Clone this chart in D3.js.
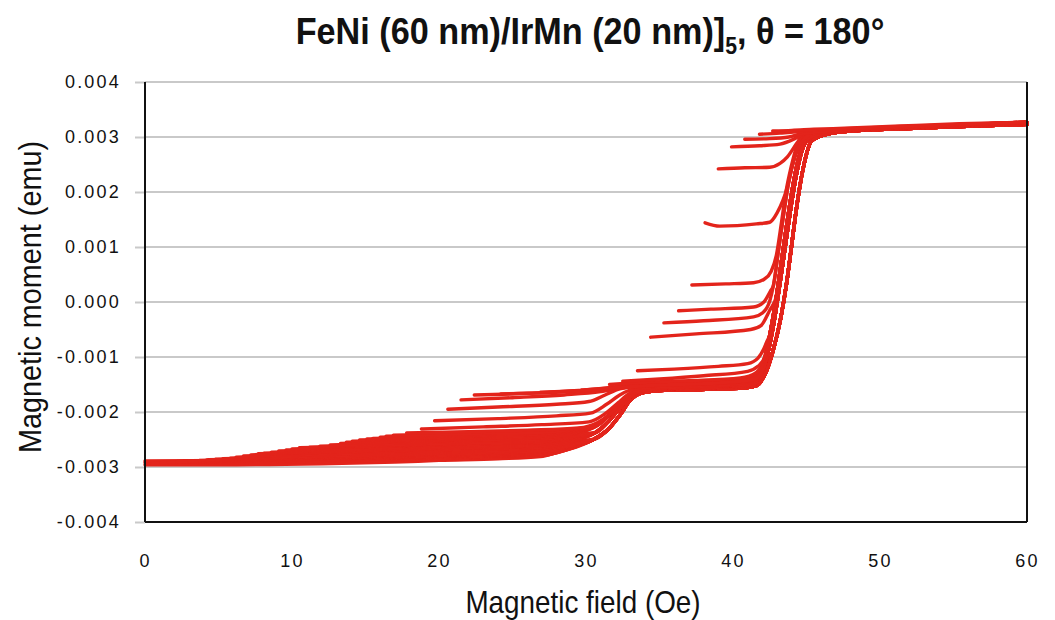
<!DOCTYPE html>
<html>
<head>
<meta charset="utf-8">
<script src="https://cdn.jsdelivr.net/npm/d3@7"></script>
<style>
  html, body { margin: 0; padding: 0; background: #ffffff; }
  svg { display: block; }
  .tick-label { font-family: "Liberation Sans", Arial, sans-serif; font-size: 18px; fill: #111; letter-spacing: 2.2px; }
  .axis-title { font-family: "Liberation Sans", Arial, sans-serif; font-size: 32px; fill: #111; }
  .chart-title { font-family: "Liberation Sans", Arial, sans-serif; font-size: 37px; font-weight: bold; fill: #111; }
</style>
</head>
<body>
<svg id="chart" width="1055" height="620"></svg>
<script>
// ---- Axis ticks -------------------------------------------------------
const xTicks = [0, 10, 20, 30, 40, 50, 60];
const yTicks = [-0.004, -0.003, -0.002, -0.001, 0, 0.001, 0.002, 0.003, 0.004];
const yTickLabels = ["-0.004", "-0.003", "-0.002", "-0.001", "0.000", "0.001", "0.002", "0.003", "0.004"];

// Moments below are given in units of 1e-3 emu; field in Oe.
const MOMENT_UNIT = 1e-3;

// ---- Shared branch segments that the reversal curves run into ---------
// lower step (~30-34 Oe) onto the intermediate plateau
const stepLow  = [[30.5,-2.50],[31.6,-2.29],[32.3,-2.06],[33.0,-1.79],[33.7,-1.66],[35.0,-1.61],[37.8,-1.59],[40.8,-1.56],[41.6,-1.52]];
const stepMid  = [[30.6,-2.38],[31.5,-2.18],[32.2,-1.96],[32.9,-1.74],[33.6,-1.63],[35.0,-1.58],[37.8,-1.56],[40.8,-1.53],[41.5,-1.49]];
const stepHigh = [[30.7,-2.25],[31.5,-2.07],[32.2,-1.86],[32.9,-1.69],[33.6,-1.61],[35.0,-1.56],[37.8,-1.53],[40.8,-1.50],[41.4,-1.45]];
// final switching (~42-46 Oe) up to positive saturation
const riseR  = [[42.25,-1.27],[42.7,-0.91],[43.25,-0.29],[43.65,0.35],[43.95,0.95],[44.3,1.67],[44.75,2.40],[45.35,2.93],[46.0,3.02],[47.6,3.10],[51.4,3.15],[55.4,3.19],[60,3.23]];
const riseRM = [[42.35,-0.95],[42.8,-0.35],[43.2,0.35],[43.55,1.00],[43.9,1.65],[44.3,2.30],[44.75,2.80],[45.3,3.00],[46.0,3.06],[47.6,3.11],[51.4,3.16],[55.4,3.20],[60,3.24]];
const riseMR = [[42.5,-0.60],[42.95,0.10],[43.3,0.75],[43.65,1.40],[44.0,2.00],[44.45,2.60],[44.95,2.95],[45.7,3.04],[47.6,3.11],[51.4,3.17],[55.4,3.21],[60,3.25]];
const riseML = [[42.75,0.30],[43.1,0.95],[43.45,1.60],[43.8,2.20],[44.2,2.65],[44.65,2.95],[45.4,3.06],[47.6,3.12],[51.4,3.17],[55.4,3.22],[60,3.26]];
const riseL  = [[42.95,0.85],[43.3,1.45],[43.6,2.00],[43.95,2.45],[44.3,2.80],[44.65,3.00],[45.3,3.08],[47.6,3.13],[51.4,3.18],[55.4,3.22],[60,3.27]];

const branches = { stepLow, stepMid, stepHigh, riseR, riseRM, riseMR, riseML, riseL };

// ---- Reversal curves: own points from the reversal field (or the 0 Oe edge),
// ---- then the branches they join
const reversalPoints = [
  [[0,-2.96],[5,-2.96],[12,-2.94],[17,-2.91],[20,-2.88],[24,-2.85],[26.9,-2.81],[28.2,-2.72],[29.5,-2.62]],
  [[0,-2.92],[6,-2.91],[13,-2.89],[19,-2.86],[24,-2.82],[27,-2.79],[29.5,-2.61]],
  [[0,-2.89],[6,-2.88],[13,-2.86],[19,-2.83],[24,-2.80],[27,-2.77],[29.5,-2.60]],
  [[0.5,-2.94],[8,-2.92],[16,-2.88],[22,-2.84],[27,-2.79],[29.5,-2.61]],
  [[1.1,-2.92],[10,-2.89],[20,-2.83],[27,-2.78],[29.5,-2.60]],
  [[1.6,-2.91],[10,-2.88],[20,-2.82],[27,-2.77],[29.5,-2.60]],
  [[2.2,-2.90],[10,-2.87],[20,-2.81],[27,-2.76],[29.5,-2.59]],
  [[3.0,-2.89],[11,-2.85],[20,-2.80],[27,-2.75],[29.5,-2.58]],
  [[3.7,-2.88],[12,-2.84],[20,-2.79],[27,-2.74],[29.5,-2.58]],
  [[4.2,-2.87],[12,-2.83],[20,-2.78],[27,-2.73],[29.5,-2.57]],
  [[4.8,-2.86],[12,-2.82],[20,-2.77],[27,-2.72],[29.5,-2.57]],
  [[5.3,-2.85],[13,-2.80],[20,-2.76],[27,-2.71],[29.5,-2.56]],
  [[5.8,-2.84],[13,-2.79],[20,-2.75],[27,-2.70],[29.5,-2.55]],
  [[6.2,-2.82],[13,-2.77],[21,-2.73],[27,-2.68],[29.5,-2.52]],
  [[6.7,-2.80],[14,-2.75],[21,-2.71],[27,-2.67],[29.5,-2.51]],
  [[7.2,-2.78],[14,-2.73],[21,-2.69],[27,-2.65],[29.5,-2.50]],
  [[7.7,-2.76],[14,-2.72],[21,-2.68],[27,-2.64],[29.5,-2.49]],
  [[8.1,-2.75],[15,-2.70],[21,-2.66],[27,-2.62],[29.5,-2.48]],
  [[8.6,-2.73],[15,-2.69],[21,-2.65],[27,-2.61],[29.5,-2.47]],
  [[9.1,-2.71],[16,-2.67],[22,-2.63],[27,-2.59],[29.5,-2.46]],
  [[9.6,-2.69],[16,-2.65],[22,-2.61],[27,-2.58],[29.5,-2.45]],
  [[10.0,-2.67],[16,-2.63],[22,-2.59],[27,-2.56],[29.5,-2.44]],
  [[10.5,-2.65],[16,-2.62],[22,-2.58],[27,-2.55],[29.5,-2.43]],
  [[11.2,-2.64],[17,-2.60],[22,-2.57],[27,-2.54],[29.5,-2.42]],
  [[11.9,-2.62],[17,-2.59],[22,-2.56],[27,-2.53],[29.5,-2.41]],
  [[12.6,-2.60],[18,-2.56],[23,-2.53],[27,-2.51],[29.5,-2.39]],
  [[13.3,-2.57],[18,-2.54],[23,-2.51],[27,-2.49],[29.5,-2.38]],
  [[13.7,-2.55],[19,-2.52],[23,-2.50],[27,-2.47],[29.5,-2.37]],
  [[14.1,-2.53],[19,-2.51],[23,-2.48],[27,-2.46],[29.5,-2.36]],
  [[14.6,-2.51],[19,-2.49],[24,-2.46],[27,-2.44],[29.5,-2.35]],
  [[15.1,-2.49],[20,-2.47],[24,-2.45],[27,-2.43],[29.5,-2.34]],
  [[15.5,-2.48],[20,-2.46],[24,-2.43],[27,-2.41],[29.5,-2.33]],
  [[16.0,-2.46],[20,-2.44],[24,-2.42],[27,-2.40],[29.5,-2.32]],
  [[16.4,-2.44],[21,-2.42],[24,-2.40],[27,-2.38],[29.5,-2.31]],
  [[16.9,-2.42],[21,-2.40],[24,-2.38],[27,-2.37],[29.5,-2.30]],
  [[17.8,-2.38],[22,-2.36],[26,-2.33],[29.5,-2.29],[30.8,-2.19],[31.8,-2.00],[32.6,-1.78],[33.3,-1.65],[35,-1.57],[38,-1.54],[40.8,-1.51],[41.5,-1.47]],
  [[18.8,-2.31],[23,-2.27],[27,-2.23],[30.2,-2.18],[31.3,-2.03],[32.2,-1.83],[32.9,-1.67],[34,-1.58],[37,-1.54],[40.5,-1.50],[41.4,-1.45]],
  [[19.7,-2.16],[24,-2.12],[28,-2.07],[30.3,-2.02],[31.4,-1.86],[32.3,-1.69],[33.3,-1.58],[36,-1.53],[40,-1.49],[41.3,-1.44]],
  [[20.6,-1.95],[24,-1.91],[28,-1.86],[30.2,-1.81],[31.3,-1.69],[32.3,-1.58],[34,-1.52],[38,-1.49],[41,-1.44],[41.8,-1.30],[42.2,-1.05]],
  [[21.5,-1.78],[25,-1.74],[28.5,-1.69],[31.0,-1.63],[32.5,-1.56],[34,-1.51],[37.5,-1.47],[40.8,-1.42],[41.6,-1.33],[42.1,-1.12]],
  [[22.4,-1.69],[26,-1.66],[29.5,-1.61],[31.8,-1.55],[33,-1.50],[35,-1.46],[38,-1.43],[40.8,-1.39],[41.6,-1.29],[42.1,-1.07]],
  [[24.2,-1.67],[28,-1.64],[31,-1.59],[33,-1.53],[36,-1.49],[40.5,-1.44],[41.5,-1.36],[42.1,-1.16]],
  [[26.9,-1.64],[30,-1.61],[32.5,-1.56],[35,-1.51],[39,-1.47],[41.4,-1.42],[42.1,-1.20]],
  [[29.7,-1.60],[32,-1.56],[35,-1.51],[39,-1.47],[41.5,-1.40],[42.1,-1.18]],
  [[31.6,-1.50],[34,-1.46],[37,-1.43],[40.5,-1.38],[41.6,-1.28],[42.1,-1.08]],
  [[32.5,-1.44],[35,-1.40],[38,-1.34],[41.0,-1.26],[41.7,-1.17],[42.2,-0.98]],
  [[33.5,-1.25],[36,-1.22],[39,-1.17],[41,-1.12],[41.7,-1.02],[42.1,-0.85],[42.3,-0.72]],
  [[34.4,-0.64],[37.5,-0.58],[41.2,-0.50],[41.9,-0.43],[42.5,-0.15]],
  [[35.3,-0.38],[38,-0.34],[41.4,-0.27],[42.0,-0.20],[42.5,0.02]],
  [[36.3,-0.16],[38.5,-0.13],[41.4,-0.09],[42.1,0.00],[42.55,0.20]],
  [[37.2,0.31],[39.5,0.33],[41.4,0.35],[42.1,0.41],[42.6,0.56]],
  [[38.1,1.44],[39.1,1.38],[41.6,1.42],[42.5,1.45],[43.0,1.62],[43.7,2.09],[44.1,2.53],[44.6,2.89],[45.2,3.05]],
  [[39.0,2.42],[40.8,2.44],[42.5,2.45],[43.2,2.52],[43.7,2.64],[44.35,2.89],[44.8,3.05]],
  [[39.9,2.82],[41.8,2.84],[43.2,2.87],[44.2,2.97],[44.9,3.07]],
  [[40.8,2.96],[42.5,2.97],[43.8,3.00],[44.8,3.07]],
  [[41.8,3.05],[43.2,3.07],[44.5,3.10],[45.5,3.12],[47.6,3.15],[51.4,3.19],[55.4,3.23],[60,3.27]],
  [[42.7,3.11],[44.0,3.12],[45.5,3.14],[47.6,3.16],[51.4,3.20],[55.4,3.24],[60,3.27]]
];
// branches each reversal curve continues along (same order as above)
const reversalJoins = [
  ["stepLow","riseR"], ["stepLow","riseR"], ["stepLow","riseRM"],
  ["stepLow","riseR"], ["stepLow","riseR"], ["stepLow","riseR"], ["stepLow","riseR"], ["stepLow","riseR"], ["stepLow","riseRM"],
  ["stepLow","riseR"], ["stepLow","riseRM"], ["stepLow","riseR"], ["stepLow","riseR"], ["stepLow","riseRM"],
  ["stepMid","riseR"], ["stepMid","riseR"], ["stepMid","riseRM"], ["stepMid","riseR"], ["stepMid","riseRM"], ["stepMid","riseR"],
  ["stepMid","riseRM"], ["stepMid","riseRM"], ["stepMid","riseR"], ["stepMid","riseR"], ["stepMid","riseRM"], ["stepMid","riseRM"],
  ["stepHigh","riseRM"], ["stepHigh","riseRM"], ["stepHigh","riseR"], ["stepHigh","riseR"], ["stepHigh","riseRM"], ["stepHigh","riseRM"],
  ["stepHigh","riseMR"], ["stepHigh","riseRM"], ["stepHigh","riseR"], ["stepHigh","riseMR"],
  ["riseR"], ["riseRM"], ["riseRM"], ["riseMR"], ["riseMR"], ["riseMR"],
  ["riseMR"], ["riseRM"], ["riseMR"], ["riseMR"], ["riseMR"], ["riseMR"],
  ["riseML"], ["riseML"], ["riseL"], ["riseL"], ["riseL"], ["riseL"], ["riseL"], ["riseL"], [], []
];

// ---- Layout ------------------------------------------------------------
const plot = { left: 145, right: 1027, top: 82, bottom: 522 };
const svg = d3.select("#chart");

const x = d3.scaleLinear().domain([0, 60]).range([plot.left, plot.right]);
const y = d3.scaleLinear().domain([-0.004, 0.004]).range([plot.bottom, plot.top]);

// horizontal grid lines and the short tick stubs left of the axis
const grid = svg.append("g");
grid.selectAll("line.grid")
  .data(yTicks.filter(v => v > -0.004))
  .join("line")
  .attr("x1", plot.left).attr("x2", plot.right)
  .attr("y1", d => y(d)).attr("y2", d => y(d))
  .attr("stroke", "#c9c9c9").attr("stroke-width", 2);

const yAxis = d3.axisLeft(y)
  .tickValues(yTicks)
  .tickSize(10)
  .tickPadding(14)
  .tickFormat((d, i) => yTickLabels[i]);
const gy = svg.append("g").attr("transform", `translate(${plot.left},0)`).call(yAxis);
gy.select(".domain").remove();
gy.selectAll(".tick line").attr("stroke", "#c9c9c9").attr("stroke-width", 2);
gy.selectAll(".tick text").attr("class", "tick-label").attr("font-size", null).attr("font-family", null);

const xAxis = d3.axisBottom(x)
  .tickValues(xTicks)
  .tickSize(0)
  .tickPadding(32)
  .tickFormat(d3.format("d"));
const gx = svg.append("g").attr("transform", `translate(0,${plot.bottom})`).call(xAxis);
gx.select(".domain").remove();
gx.selectAll(".tick text").attr("class", "tick-label").attr("font-size", null).attr("font-family", null);

// ---- Reversal curves -----------------------------------------------------
function buildCurve(own, joins) {
  const pts = own.slice();
  joins.forEach(name => {
    branches[name].forEach(p => {
      if (p[0] > pts[pts.length - 1][0]) pts.push(p);
    });
  });
  return pts;
}
const curves = reversalPoints.map((own, i) => buildCurve(own, reversalJoins[i]));

const line = d3.line()
  .x(d => x(d[0]))
  .y(d => y(d[1] * MOMENT_UNIT))
  .curve(d3.curveMonotoneX);

svg.append("g")
  .selectAll("path")
  .data(curves)
  .join("path")
  .attr("d", line)
  .attr("fill", "none")
  .attr("stroke", "#e3241b")
  .attr("stroke-width", 3.4)
  .attr("stroke-linecap", "round")
  .attr("stroke-linejoin", "round");

// ---- Frame: left, right and bottom rules ---------------------------------
const frame = svg.append("g").attr("stroke", "#111").attr("stroke-width", 2);
frame.append("line").attr("x1", plot.left).attr("x2", plot.left).attr("y1", plot.top).attr("y2", plot.bottom);
frame.append("line").attr("x1", plot.right).attr("x2", plot.right).attr("y1", plot.top).attr("y2", plot.bottom);
frame.append("line").attr("x1", plot.left).attr("x2", plot.right).attr("y1", plot.bottom).attr("y2", plot.bottom);

// ---- Titles (condensed by a horizontal squeeze) -----------------------------
const title = svg.append("text").attr("class", "chart-title")
  .attr("transform", "translate(590,44) scale(0.925,1)")
  .attr("text-anchor", "middle");
title.append("tspan").text("FeNi (60 nm)/IrMn (20 nm)]");
title.append("tspan").attr("font-size", 23).attr("dy", 10).text("5");
title.append("tspan").attr("dy", -10).text(", θ = 180°");

svg.append("text").attr("class", "axis-title")
  .attr("transform", "translate(583,613) scale(0.87,1)")
  .attr("text-anchor", "middle")
  .text("Magnetic field (Oe)");

svg.append("text").attr("class", "axis-title")
  .attr("transform", "translate(41,297) rotate(-90) scale(0.9,1)")
  .attr("text-anchor", "middle")
  .text("Magnetic moment (emu)");
</script>
</body>
</html>
